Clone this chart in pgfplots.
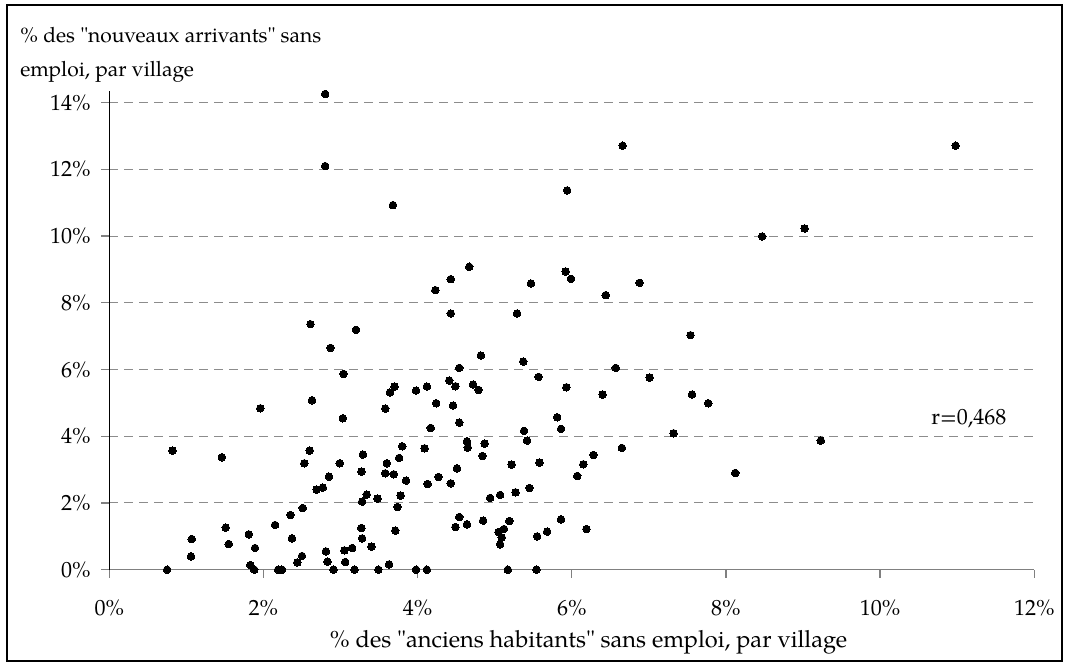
\documentclass[border=0pt]{standalone}
\usepackage{fontspec}
\setmainfont{TeX Gyre Pagella}
\usepackage{pgfplots}
\pgfplotsset{compat=1.18}
\definecolor{gridgray}{RGB}{140,140,140}
\definecolor{axgray}{RGB}{128,128,128}
\pgfplotstableread{
x y
2.80 14.26
2.80 12.10
3.68 10.93
4.23 8.38
4.43 8.71
4.43 7.68
2.61 7.36
3.20 7.19
6.66 12.71
10.98 12.71
5.94 11.37
8.47 9.99
9.02 10.23
4.67 9.08
5.29 7.68
5.47 8.58
5.92 8.94
5.99 8.72
6.44 8.23
6.88 8.60
7.54 7.03
4.82 6.42
5.37 6.24
4.54 6.05
6.57 6.05
4.41 5.67
4.49 5.50
4.72 5.55
4.79 5.39
5.57 5.78
5.93 5.47
7.01 5.76
6.40 5.25
7.56 5.25
7.77 4.99
4.46 4.92
5.81 4.57
4.54 4.41
5.86 4.22
7.32 4.09
5.38 4.16
4.64 3.85
4.65 3.66
4.87 3.78
5.42 3.87
4.84 3.41
6.65 3.65
8.12 2.90
6.28 3.44
6.15 3.16
6.07 2.81
4.51 3.04
4.43 2.59
5.22 3.15
5.58 3.21
4.94 2.15
5.07 2.24
5.27 2.32
5.45 2.45
4.54 1.58
4.49 1.28
4.64 1.36
4.85 1.47
5.19 1.46
5.05 1.13
5.12 1.22
5.09 0.97
5.07 0.76
5.55 1.00
5.68 1.14
5.86 1.51
6.19 1.22
5.17 0
5.54 0
2.87 6.65
3.04 5.87
2.63 5.08
3.03 4.54
1.96 4.84
0.82 3.57
1.46 3.37
2.60 3.57
2.53 3.19
2.85 2.79
2.69 2.40
2.77 2.46
2.99 3.19
3.29 3.45
3.27 2.94
3.28 2.04
3.34 2.25
3.48 2.13
3.58 4.83
3.64 5.31
3.70 5.49
3.98 5.37
4.12 5.49
4.24 4.99
4.17 4.25
3.60 3.19
3.58 2.89
3.69 2.86
3.76 3.35
3.80 3.70
3.85 2.67
3.78 2.22
3.74 1.88
4.09 3.64
4.13 2.57
4.27 2.78
3.27 1.25
3.28 0.94
3.40 0.69
3.71 1.17
3.63 0.16
3.49 0
3.98 0
4.12 0
3.18 0
2.91 0
2.81 0.55
2.83 0.24
3.05 0.58
3.06 0.23
3.15 0.65
2.35 1.64
2.51 1.85
2.15 1.34
2.37 0.94
2.44 0.22
2.50 0.41
2.19 0
2.24 0
1.81 1.06
1.89 0.65
1.83 0.14
1.88 0
1.51 1.26
1.55 0.77
1.07 0.92
1.06 0.40
0.75 0
9.23 3.87
}\villages
\begin{document}
\fontsize{11bp}{13bp}\selectfont
\begin{tikzpicture}
\path[use as bounding box] (-54.65bp,-47.65bp) rectangle (479.35bp,284.85bp);
\draw[line width=1bp] (-51.15bp,-45.65bp) rectangle (476.35bp,282.35bp);
\begin{axis}[
  at={(0,0)}, anchor=south west, scale only axis,
  width=462.5bp, height=239.35bp,
  xmin=0, xmax=12, ymin=0, ymax=14.35,
  axis lines*=left,
  x axis line style={-, draw=axgray, line width=0.65bp},
  y axis line style={-, draw=black, line width=0.5bp},
  tick align=outside,
  major tick length=4bp,
  tick style={draw=axgray, line width=0.65bp},
  xtick={0,2,...,12}, ytick={0,2,...,14},
  minor tick num=0,
  /pgf/number format/assume math mode=true,
  xticklabel={\pgfmathprintnumber{\tick}\%},
  yticklabel={\pgfmathprintnumber{\tick}\%},
  xticklabel style={anchor=north, inner sep=0pt, yshift=-11.15bp},
  yticklabel style={anchor=east, inner sep=0pt, xshift=-5.15bp},
  ymajorgrids,
  major grid style={draw=gridgray, line width=0.5bp, dash pattern=on 4.5bp off 3bp},
  clip=false,
]
\addplot[only marks, mark=*, mark size=1.9bp, mark options={fill=black, draw=black, line width=0pt}] table[x=x, y=y] {\villages};
\node[anchor=base west, inner sep=0pt] at (axis cs:10.66,4.36) {r=0,468};
\end{axis}
\begin{scope}[font=\fontsize{10.5bp}{13bp}\selectfont]
\node[anchor=base west, inner sep=0pt] at (-44.65bp,263.35bp) {\% des \textquotedbl nouveaux arrivants\textquotedbl{} sans};
\node[anchor=base west, inner sep=0pt] at (-44.65bp,246.35bp) {emploi, par village};
\end{scope}
\node[anchor=base, inner sep=0pt, font=\fontsize{11.8bp}{14bp}\selectfont] at (239.6bp,-38.65bp) {\% des \textquotedbl anciens habitants\textquotedbl{} sans emploi, par village};
\end{tikzpicture}
\end{document}
